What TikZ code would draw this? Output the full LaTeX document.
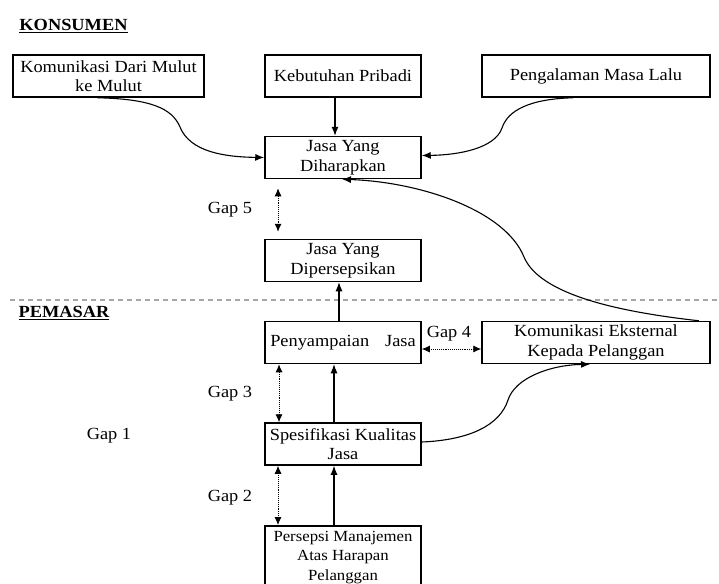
\documentclass[tikz,border=0pt]{standalone}
\usepackage{fontspec}
\setmainfont[FakeStretch=1.08]{Liberation Serif}
\usetikzlibrary{arrows.meta}
\begin{document}
\begin{tikzpicture}[x=1pt,y=-1pt,
  box/.style={draw, line width=1.5pt, minimum width=156pt, minimum height=42pt,
    inner xsep=2pt, inner ysep=1pt, align=center, font=\fontsize{17}{19.5}\selectfont},
  wide/.style={box, minimum width=228pt},
  arr/.style={line width=1.1pt, -{Latex[length=9pt,width=7pt]}},
  gaparr/.style={line width=0.9pt, densely dotted, {Latex[length=8pt,width=7pt]}-{Latex[length=8pt,width=7pt]}},
  lbl/.style={font=\fontsize{17}{19}\selectfont, inner sep=0pt},
  head/.style={font=\fontsize{17}{19}\selectfont\bfseries, inner sep=0pt}]
\useasboundingbox (0,0) rectangle (719,583);
\fill[white] (0,0) rectangle (719,583);

% separator
\coordinate (sepL) at (10,300);
\coordinate (sepR) at (719,300);
\draw[gray!70, line width=1.2pt, dash pattern=on 5pt off 4pt] (sepL) -- (sepR);

% headings
\node[head] (kon) at (73.5,26) {\underline{KONSUMEN}};
\node[head] (pem) at (64,313) {\underline{PEMASAR}};

% boxes
\node[box, minimum width=191pt] (b1) at (108.5,76) {Komunikasi Dari Mulut\\ke Mulut};
\node[box] (b2) at (343,76) {Kebutuhan Pribadi};
\node[wide] (b3) at (596,76) {Pengalaman Masa Lalu};
\node[box] (dh) at (343,157.5) {Jasa Yang\\Diharapkan};
\node[box] (dp) at (343,260.5) {Jasa Yang\\Dipersepsikan};
\node[box] (py) at (343,342.5) {Penyampaian\hspace{16pt}Jasa};
\node[wide] (ke) at (596,342.5) {Komunikasi Eksternal\\Kepada Pelanggan};
\node[box] (sk) at (343,444) {Spesifikasi Kualitas\\Jasa};
\node[box, anchor=north, minimum height=80pt] (pm) at (343,525) {};
\node[align=center, font=\fontsize{15.5}{19.5}\selectfont, anchor=north, inner sep=0pt]
  (pmt) at (343,531) {Persepsi Manajemen\\Atas Harapan\\Pelanggan};

% gap labels
\node[lbl] (g5) at (230,210) {Gap 5};
\node[lbl] (g3) at (230,394) {Gap 3};
\node[lbl] (g1) at (109,436) {Gap 1};
\node[lbl] (g2) at (230,498) {Gap 2};
\node[lbl] (g4) at (449,334) {Gap 4};

% straight arrows
\draw[arr] ([xshift=-8pt]b2.south) -- ([xshift=-8pt]dh.north);
\draw[arr] ([xshift=-4pt]py.north) -- ([xshift=-4pt]dp.south);
\draw[arr] ([xshift=-9pt]sk.north) -- ([xshift=-9pt]py.south);
\draw[arr] ([xshift=-9pt]pm.north) -- ([xshift=-9pt]sk.south);

% gap arrows
\draw[gaparr, shorten <=9pt, shorten >=7pt] ([xshift=-65pt]dh.south) -- ([xshift=-65pt]dp.north);
\draw[gaparr] ([xshift=-64pt]py.south) -- ([xshift=-64pt]sk.north);
\draw[gaparr] ([xshift=-65pt]sk.south) -- ([xshift=-65pt]pm.north);
\draw[gaparr] ([yshift=-6.5pt]py.east) -- ([yshift=-6.5pt]ke.west);

% curved arrows
\draw[arr] ([xshift=-11pt]b1.south) .. controls (150,99) and (172,108) .. (180,127)
  .. controls (190,152) and (225,157) .. (dh.west);
\draw[arr] ([xshift=-23pt]b3.south) .. controls (530,99) and (508,110) .. (502,128)
  .. controls (495,148) and (460,155) .. ([yshift=2pt]dh.east);
\draw[arr] ([xshift=-12pt]ke.north east) .. controls (620,312) and (540,295) .. (524,257)
  .. controls (505,210) and (420,182) .. ([xshift=-1pt]dh.south);
\draw[arr] ([yshift=2pt]sk.east) .. controls (470,440) and (500,425) .. (508,400)
  .. controls (515,378) and (550,365) .. ([xshift=-6pt]ke.south);
\end{tikzpicture}
\end{document}
